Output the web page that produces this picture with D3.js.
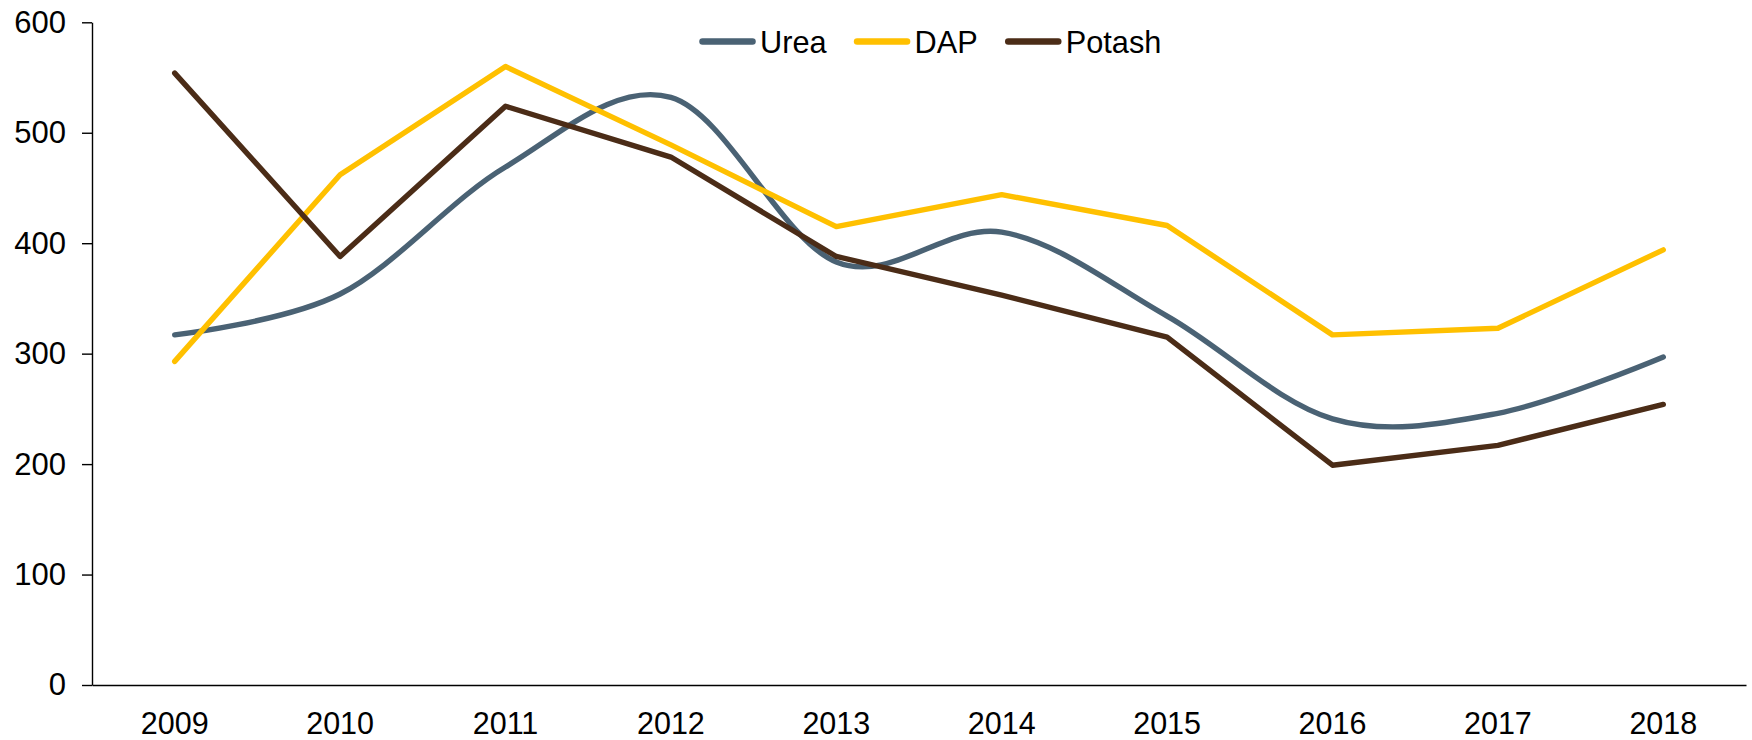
<!DOCTYPE html>
<html>
<head>
<meta charset="utf-8">
<script src="https://cdn.jsdelivr.net/npm/d3@7"></script>
<style>
  html, body { margin: 0; padding: 0; background: #fff; }
  svg { display: block; }
  text { font-family: "Liberation Sans", Arial, sans-serif; fill: #000; }
</style>
</head>
<body>
<svg id="chart" width="1752" height="740"></svg>
<script>
const years = ["2009","2010","2011","2012","2013","2014","2015","2016","2017","2018"];
const urea   = [317, 354, 469, 532, 383, 410, 334, 241, 246, 297];
const dap    = [293, 462, 560, 489, 415, 444, 416, 317, 323, 394];
const potash = [554, 388, 524, 478, 388, 353, 315, 199, 217, 254];
const yTicks = [0, 100, 200, 300, 400, 500, 600];
const seriesNames = ["Urea", "DAP", "Potash"];
const seriesColors = ["#4A6274", "#FFC000", "#4B2C17"];

const series = [
  { name: seriesNames[0], values: urea,   color: seriesColors[0], smooth: true },
  { name: seriesNames[1], values: dap,    color: seriesColors[1], smooth: false },
  { name: seriesNames[2], values: potash, color: seriesColors[2], smooth: false }
];

const svg = d3.select("#chart");
const plotLeft = 92, plotRight = 1746, plotTop = 22.3, plotBottom = 685;

const x = d3.scaleBand().domain(years).range([plotLeft, plotRight]).padding(0);
const y = d3.scaleLinear().domain([0, 600]).range([plotBottom, plotTop]);

// Y axis
const yAxis = svg.append("g")
  .attr("transform", `translate(${plotLeft},0)`)
  .call(d3.axisLeft(y).tickValues(yTicks).tickSize(10).tickSizeOuter(0).tickPadding(16));
yAxis.selectAll("text").style("font-size", "31px").attr("fill", "#000");
yAxis.selectAll("line").attr("stroke", "#000").attr("stroke-width", 1.4);
yAxis.select(".domain").attr("stroke", "#000").attr("stroke-width", 1.4);

// X axis
const xAxis = svg.append("g")
  .attr("transform", `translate(0,${plotBottom})`)
  .call(d3.axisBottom(x).tickSize(0).tickSizeOuter(0).tickPadding(27));
xAxis.selectAll("text").style("font-size", "30.5px").attr("fill", "#000");
xAxis.select(".domain").attr("stroke", "#000").attr("stroke-width", 1.4);

// Lines
series.forEach(s => {
  const line = d3.line()
    .x((d, i) => x(years[i]) + x.bandwidth() / 2)
    .y(d => y(d))
    .curve(s.smooth ? d3.curveCardinal.tension(0) : d3.curveLinear);
  svg.append("path")
    .datum(s.values)
    .attr("fill", "none")
    .attr("stroke", s.color)
    .attr("stroke-width", 5.4)
    .attr("stroke-linecap", "round")
    .attr("stroke-linejoin", "round")
    .attr("d", line);
});

// Legend
const legend = svg.append("g").attr("transform", "translate(0,41.5)");
let lx = 702.5;
series.forEach(s => {
  legend.append("line")
    .attr("x1", lx).attr("x2", lx + 50)
    .attr("y1", 0).attr("y2", 0)
    .attr("stroke", s.color)
    .attr("stroke-width", 6.5)
    .attr("stroke-linecap", "round");
  const t = legend.append("text")
    .attr("x", lx + 57.5)
    .attr("y", 0)
    .attr("dy", "0.36em")
    .style("font-size", "32px")
    .attr("transform", `translate(${lx + 57.5},0) scale(0.96,1) translate(${-(lx + 57.5)},0)`)
    .text(s.name);
  const w = t.node().getComputedTextLength() * 0.96;
  lx = lx + 57.5 + w + 30.5;
});
</script>
</body>
</html>
